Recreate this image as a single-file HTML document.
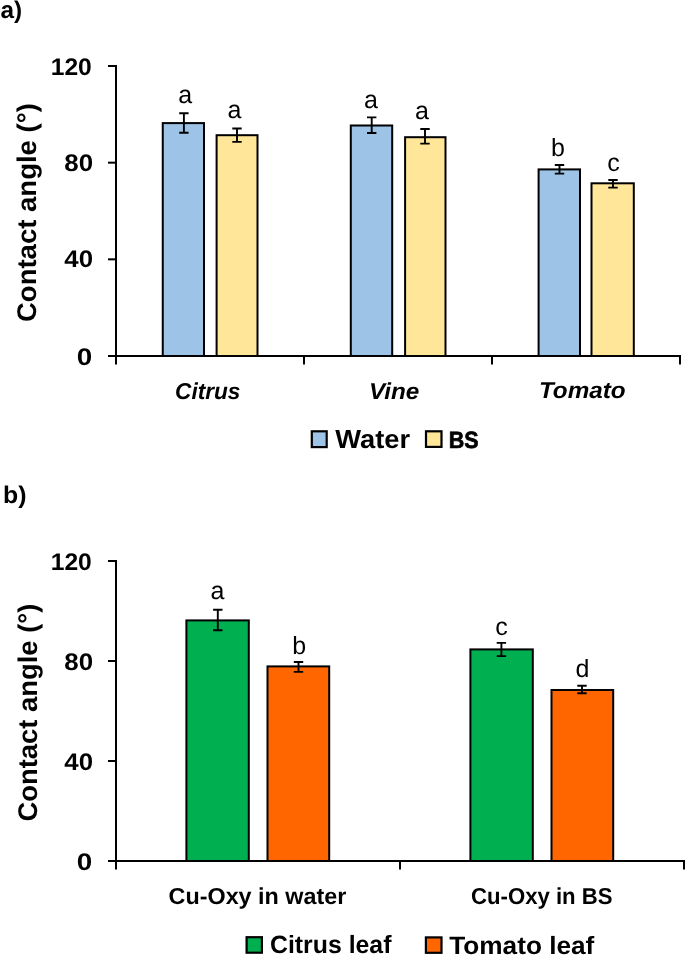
<!DOCTYPE html>
<html><head><meta charset="utf-8"><style>
html,body{margin:0;padding:0;background:#fff;}
svg{display:block;}
text{font-family:"Liberation Sans",sans-serif;fill:#000;text-rendering:geometricPrecision;}
</style></head><body>
<svg width="685" height="956" viewBox="0 0 685 956">
<rect width="685" height="956" fill="#fff"/>
<line x1="116" y1="65" x2="116" y2="356" stroke="#000" stroke-width="2"/>
<line x1="108" y1="356.0" x2="116" y2="356.0" stroke="#000" stroke-width="2"/>
<line x1="108" y1="259.3333333333333" x2="116" y2="259.3333333333333" stroke="#000" stroke-width="2"/>
<line x1="108" y1="162.66666666666666" x2="116" y2="162.66666666666666" stroke="#000" stroke-width="2"/>
<line x1="108" y1="66.0" x2="116" y2="66.0" stroke="#000" stroke-width="2"/>
<line x1="116" y1="356" x2="116" y2="364.5" stroke="#000" stroke-width="2"/>
<line x1="304" y1="356" x2="304" y2="364.5" stroke="#000" stroke-width="2"/>
<line x1="492" y1="356" x2="492" y2="364.5" stroke="#000" stroke-width="2"/>
<line x1="680" y1="356" x2="680" y2="364.5" stroke="#000" stroke-width="2"/>
<rect x="162.75" y="123.10" width="41.25" height="232.90" fill="#9DC3E6" stroke="#000" stroke-width="2"/>
<rect x="216.60" y="135.20" width="40.90" height="220.80" fill="#FFE699" stroke="#000" stroke-width="2"/>
<rect x="350.80" y="125.50" width="41.40" height="230.50" fill="#9DC3E6" stroke="#000" stroke-width="2"/>
<rect x="405.10" y="137.20" width="40.40" height="218.80" fill="#FFE699" stroke="#000" stroke-width="2"/>
<rect x="538.60" y="169.40" width="41.40" height="186.60" fill="#9DC3E6" stroke="#000" stroke-width="2"/>
<rect x="591.50" y="183.30" width="42.30" height="172.70" fill="#FFE699" stroke="#000" stroke-width="2"/>
<line x1="115" y1="356" x2="681" y2="356" stroke="#000" stroke-width="2"/>
<path d="M183.9 113.3V132.7M179.20000000000002 113.3H188.6M179.20000000000002 132.7H188.6" stroke="#000" stroke-width="1.9" fill="none"/>
<path d="M237 128.5V141.9M232.3 128.5H241.7M232.3 141.9H241.7" stroke="#000" stroke-width="1.9" fill="none"/>
<path d="M371.7 117.4V133M367.0 117.4H376.4M367.0 133H376.4" stroke="#000" stroke-width="1.9" fill="none"/>
<path d="M425 129V143.6M420.3 129H429.7M420.3 143.6H429.7" stroke="#000" stroke-width="1.9" fill="none"/>
<path d="M559.5 165V173.6M554.8 165H564.2M554.8 173.6H564.2" stroke="#000" stroke-width="1.9" fill="none"/>
<path d="M613 180V187.6M608.3 180H617.7M608.3 187.6H617.7" stroke="#000" stroke-width="1.9" fill="none"/>
<rect x="311.80" y="431.30" width="14.90" height="15.80" fill="#9DC3E6" stroke="#000" stroke-width="2.2"/>
<rect x="426.00" y="431.30" width="15.50" height="15.60" fill="#FFE699" stroke="#000" stroke-width="2.2"/>
<line x1="116" y1="560" x2="116" y2="861" stroke="#000" stroke-width="2"/>
<line x1="108" y1="861.0" x2="116" y2="861.0" stroke="#000" stroke-width="2"/>
<line x1="108" y1="761.0" x2="116" y2="761.0" stroke="#000" stroke-width="2"/>
<line x1="108" y1="661.0" x2="116" y2="661.0" stroke="#000" stroke-width="2"/>
<line x1="108" y1="561.0" x2="116" y2="561.0" stroke="#000" stroke-width="2"/>
<line x1="116" y1="861" x2="116" y2="869.5" stroke="#000" stroke-width="2"/>
<line x1="400" y1="861" x2="400" y2="869.5" stroke="#000" stroke-width="2"/>
<line x1="684" y1="861" x2="684" y2="869.5" stroke="#000" stroke-width="2"/>
<rect x="186.40" y="620.40" width="62.40" height="240.60" fill="#00B050" stroke="#000" stroke-width="2"/>
<rect x="267.50" y="666.40" width="61.70" height="194.60" fill="#FF6600" stroke="#000" stroke-width="2"/>
<rect x="470.40" y="649.40" width="62.40" height="211.60" fill="#00B050" stroke="#000" stroke-width="2"/>
<rect x="551.50" y="690.00" width="61.70" height="171.00" fill="#FF6600" stroke="#000" stroke-width="2"/>
<line x1="115" y1="861" x2="685" y2="861" stroke="#000" stroke-width="2"/>
<path d="M217.8 609.8V630.2M213.10000000000002 609.8H222.5M213.10000000000002 630.2H222.5" stroke="#000" stroke-width="1.9" fill="none"/>
<path d="M298.5 662V671.9M293.8 662H303.2M293.8 671.9H303.2" stroke="#000" stroke-width="1.9" fill="none"/>
<path d="M501.4 642.9V656.1M496.7 642.9H506.09999999999997M496.7 656.1H506.09999999999997" stroke="#000" stroke-width="1.9" fill="none"/>
<path d="M582 685.8V693.3M577.3 685.8H586.7M577.3 693.3H586.7" stroke="#000" stroke-width="1.9" fill="none"/>
<rect x="246.60" y="937.20" width="15.30" height="15.50" fill="#00B050" stroke="#000" stroke-width="2.2"/>
<rect x="425.90" y="937.40" width="15.60" height="15.40" fill="#FF6600" stroke="#000" stroke-width="2.2"/>
<g opacity="0.999">
<text transform="translate(0.56,18.10) scale(1.0148,1)" font-size="24" font-weight="bold" font-style="normal">a)</text>
<text transform="translate(3.09,502.90) scale(1.0367,1)" font-size="24" font-weight="bold" font-style="normal">b)</text>
<text transform="translate(76.86,364.80) scale(1.1587,1)" font-size="24" font-weight="bold" font-style="normal">0</text>
<text transform="translate(64.31,267.47) scale(1.0753,1)" font-size="24" font-weight="bold" font-style="normal">40</text>
<text transform="translate(64.30,171.13) scale(1.0794,1)" font-size="24" font-weight="bold" font-style="normal">80</text>
<text transform="translate(50.70,74.80) scale(1.0267,1)" font-size="24" font-weight="bold" font-style="normal">120</text>
<text transform="translate(76.86,869.80) scale(1.1587,1)" font-size="24" font-weight="bold" font-style="normal">0</text>
<text transform="translate(64.31,769.80) scale(1.0753,1)" font-size="24" font-weight="bold" font-style="normal">40</text>
<text transform="translate(64.30,669.80) scale(1.0794,1)" font-size="24" font-weight="bold" font-style="normal">80</text>
<text transform="translate(50.70,569.80) scale(1.0267,1)" font-size="24" font-weight="bold" font-style="normal">120</text>
<text transform="translate(36.20,322.02) rotate(-90) scale(1.0189,1)" font-size="27" font-weight="bold">Contact angle (°)</text>
<text transform="translate(36.60,821.53) rotate(-90) scale(1.0142,1)" font-size="27" font-weight="bold">Contact angle (°)</text>
<text transform="translate(175.02,399.00) scale(0.9849,1)" font-size="23" font-weight="bold" font-style="italic">Citrus</text>
<text transform="translate(369.03,399.00) scale(1.0542,1)" font-size="23" font-weight="bold" font-style="italic">Vine</text>
<text transform="translate(538.89,398.20) scale(1.0553,1)" font-size="23" font-weight="bold" font-style="italic">Tomato</text>
<text transform="translate(335.20,447.90) scale(1.0516,1)" font-size="26" font-weight="bold" font-style="normal">Water</text>
<text transform="translate(448.77,448.00) scale(0.9136,1)" font-size="23.5" font-weight="bold" font-style="normal" stroke="#000" stroke-width="0.7">BS</text>
<text transform="translate(168.57,903.60) scale(1.0151,1)" font-size="23" font-weight="bold" font-style="normal">Cu-Oxy in water</text>
<text transform="translate(471.04,903.60) scale(0.9628,1)" font-size="23" font-weight="bold" font-style="normal">Cu-Oxy in BS</text>
<text transform="translate(270.01,953.00) scale(0.9934,1)" font-size="25" font-weight="bold" font-style="normal">Citrus leaf</text>
<text transform="translate(449.20,953.50) scale(1.0484,1)" font-size="25" font-weight="bold" font-style="normal">Tomato leaf</text>
<text transform="translate(178.30,103.40) scale(1.0000,1)" font-size="25" font-weight="normal" font-style="normal">a</text>
<text transform="translate(227.60,118.30) scale(1.0000,1)" font-size="25" font-weight="normal" font-style="normal">a</text>
<text transform="translate(364.00,107.60) scale(1.0000,1)" font-size="25" font-weight="normal" font-style="normal">a</text>
<text transform="translate(415.10,118.60) scale(1.0000,1)" font-size="25" font-weight="normal" font-style="normal">a</text>
<text transform="translate(551.00,156.00) scale(1.0000,1)" font-size="25" font-weight="normal" font-style="normal">b</text>
<text transform="translate(607.20,170.60) scale(1.0000,1)" font-size="25" font-weight="normal" font-style="normal">c</text>
<text transform="translate(210.50,599.40) scale(1.0000,1)" font-size="25" font-weight="normal" font-style="normal">a</text>
<text transform="translate(292.30,653.90) scale(1.0000,1)" font-size="25" font-weight="normal" font-style="normal">b</text>
<text transform="translate(495.30,635.30) scale(1.0000,1)" font-size="25" font-weight="normal" font-style="normal">c</text>
<text transform="translate(575.44,677.40) scale(1.0000,1)" font-size="25" font-weight="normal" font-style="normal">d</text>
</g>
</svg>
</body></html>
